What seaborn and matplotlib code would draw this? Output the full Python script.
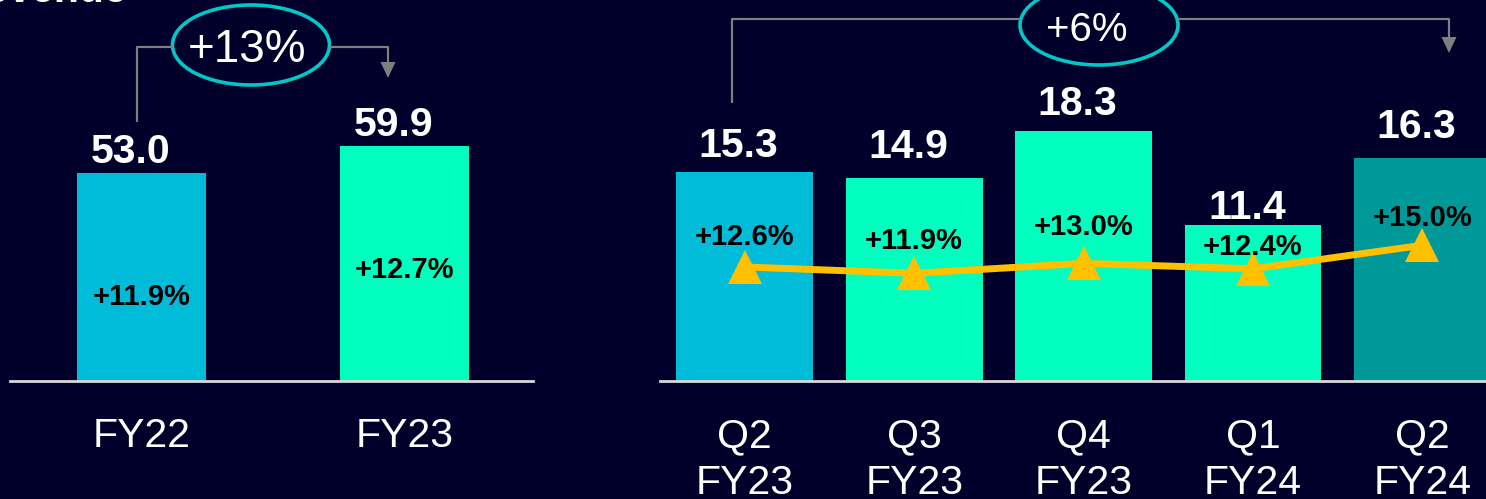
import matplotlib
matplotlib.use('Agg')
import matplotlib.pyplot as plt
import seaborn as sns
import pandas as pd
from matplotlib.patches import Ellipse, Polygon

# ---------------- data ----------------
annual_labels = ['FY22', 'FY23']
annual_revenue = [53.0, 59.9]
annual_growth = ['+11.9%', '+12.7%']
annual_change = '+13%'

quarter_labels = ['Q2\nFY23', 'Q3\nFY23', 'Q4\nFY23', 'Q1\nFY24', 'Q2\nFY24']
quarter_revenue = [15.3, 14.9, 18.3, 11.4, 16.3]
quarter_growth = [12.6, 11.9, 13.0, 12.4, 15.0]
quarter_change = '+6%'

title_text = 'Revenue'

# ---------------- style ----------------
BG = '#00002A'
CYAN = '#00BCD9'
MINT = '#00FFBF'
TEAL = '#009999'
GOLD = '#FFC000'
GRAY = '#7F7F7F'
RING = '#00C8C8'
annual_colors = [CYAN, MINT]
quarter_colors = [CYAN, MINT, MINT, MINT, TEAL]

# label offsets (pixels) - layout only
quarter_value_pad = [15, 20, 16, 6, 20]
quarter_growth_pad = [30, 32, 36, 22, 27]

sns.set_theme(style='white')
plt.rcParams['font.family'] = ['Liberation Sans', 'DejaVu Sans']

W, H = 1486, 499
fig = plt.figure(figsize=(W / 100, H / 100), dpi=100, facecolor=BG)

base = 381
bottom = (H - base) / H
height = base / H
axL = fig.add_axes([10 / W, bottom, 523 / W, height])
axR = fig.add_axes([660 / W, bottom, 826 / W, height])

dfA = pd.DataFrame({'period': annual_labels, 'revenue': annual_revenue})
sns.barplot(data=dfA, x='period', y='revenue', hue='period', palette=annual_colors,
            legend=False, width=0.49, saturation=1, linewidth=0, edgecolor='none', ax=axL)

dfQ = pd.DataFrame({'quarter': quarter_labels, 'revenue': quarter_revenue,
                    'growth': quarter_growth, 'pos': list(range(len(quarter_labels)))})
sns.barplot(data=dfQ, x='quarter', y='revenue', hue='quarter', palette=quarter_colors,
            legend=False, width=0.808, saturation=1, linewidth=0, edgecolor='none', ax=axR)

axT = axR.twinx()
sns.lineplot(data=dfQ, x='pos', y='growth', ax=axT, color=GOLD, lw=5,
             marker='^', markersize=24, markeredgewidth=0)

for ax in (axL, axR, axT):
    ax.set_facecolor('none')
    for s in ('top', 'left', 'right'):
        ax.spines[s].set_visible(False)
    ax.set_yticks([])
    ax.set_xlabel('')
    ax.set_ylabel('')
axT.spines['bottom'].set_visible(False)
axL.set_facecolor(BG)
axR.set_facecolor(BG)
axR.set_zorder(1)
axT.set_zorder(2)

for ax in (axL, axR):
    ax.spines['bottom'].set_color('#D9D9D9')
    ax.spines['bottom'].set_linewidth(2)
    ax.tick_params(axis='x', length=0, pad=26, labelsize=29.5, labelcolor='white')
for lab in axR.get_xticklabels():
    lab.set_linespacing(1.3)

axL.set_xlim(-0.5, 1.49)
axL.set_ylim(0, 97.2)
axR.set_xlim(-0.5, 4.375)
axR.set_ylim(0, 27.9)
axT.set_xlim(-0.5, 4.375)
axT.set_ylim(0, 42.1)

# annual labels
for i, v in enumerate(annual_revenue):
    axL.annotate(f'{v:.1f}', (i, v), xytext=(-11, 10), textcoords='offset pixels',
                 ha='center', va='baseline', fontsize=29.5, fontweight='bold', color='white')
    axL.annotate(annual_growth[i], (i, v), xytext=(0, -124), textcoords='offset pixels',
                 ha='center', va='center', fontsize=21, fontweight='bold', color='black')

# quarterly labels
for i, v in enumerate(quarter_revenue):
    axR.annotate(f'{v:.1f}', (i, v), xytext=(-6, quarter_value_pad[i]),
                 textcoords='offset pixels', ha='center', va='baseline',
                 fontsize=29.5, fontweight='bold', color='white')
for i, g in enumerate(quarter_growth):
    axT.annotate(f'+{g:.1f}%', (i, g), xytext=(0, quarter_growth_pad[i]),
                 textcoords='offset pixels', ha='center', va='center',
                 fontsize=21, fontweight='bold', color='black', zorder=5)

# ---------------- overlay: brackets, rings, title ----------------
ov = fig.add_axes([0, 0, 1, 1], zorder=10)
ov.set_xlim(0, W)
ov.set_ylim(H, 0)
ov.axis('off')
ov.patch.set_alpha(0)

def bracket(x0, y0, xl, xr, x1, ybar, tip):
    ov.plot([x0, x0, xl], [y0, ybar, ybar], color=GRAY, lw=1.6, solid_capstyle='butt')
    ov.plot([xr, x1, x1], [ybar, ybar, tip - 15], color=GRAY, lw=1.6, solid_capstyle='butt')
    ov.add_patch(Polygon([(x1 - 7.5, tip - 16), (x1 + 7.5, tip - 16), (x1, tip)],
                         closed=True, color=GRAY, lw=0))

bracket(137, 122, 173, 330, 388, 47, 78)
bracket(732, 103, 1020, 1178, 1449, 19, 53)

ov.add_patch(Ellipse((251, 45), 157, 80, facecolor=BG, edgecolor=RING, lw=2.6))
ov.text(247, 45, annual_change, ha='center', va='center_baseline', fontsize=33, color='white')
ov.add_patch(Ellipse((1099, 25), 158, 80, facecolor=BG, edgecolor=RING, lw=2.6))
ov.text(1087, 26, quarter_change, ha='center', va='center_baseline', fontsize=29, color='white')

ov.text(127, 2, title_text, ha='right', va='baseline', fontsize=29.5,
        fontweight='bold', color='white')

fig.savefig('out.png', dpi=100, facecolor=BG)
